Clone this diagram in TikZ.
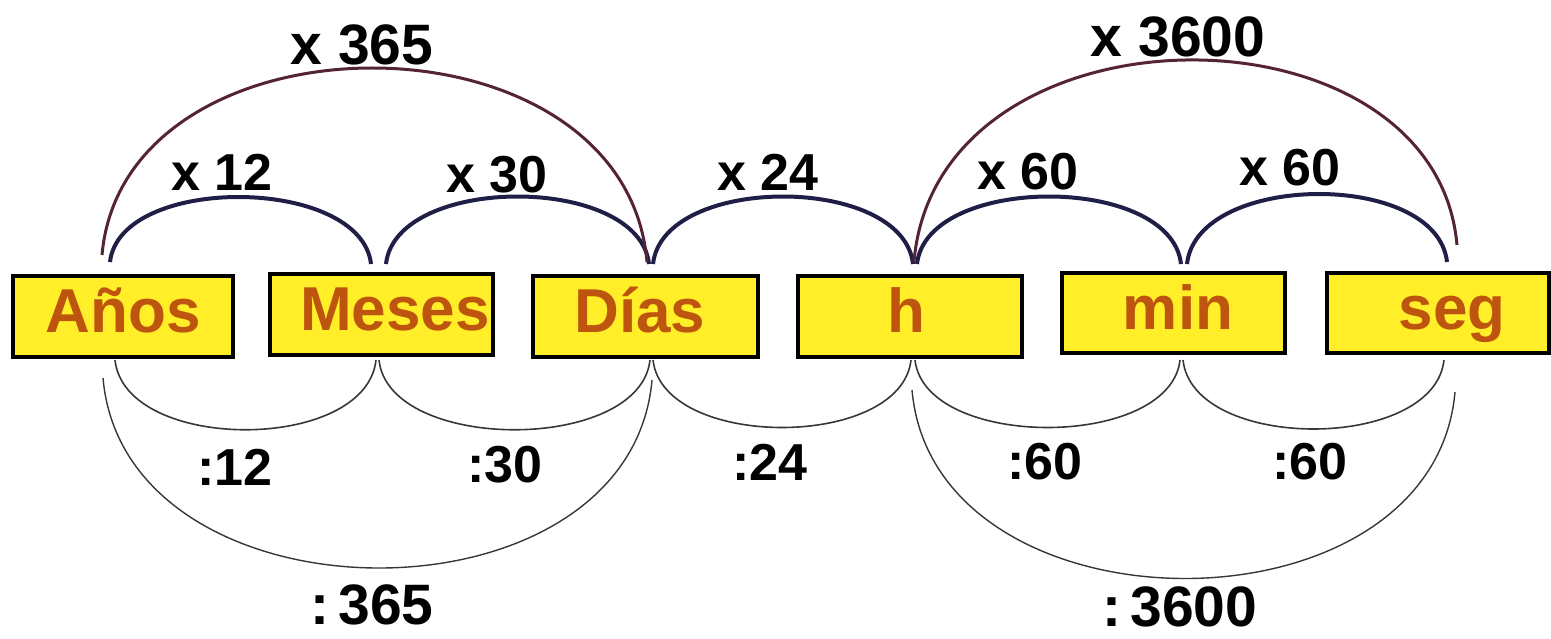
\documentclass[tikz,border=0pt]{standalone}
\usepackage{fontspec}
\setmainfont{Liberation Sans}
\usetikzlibrary{calc}
\definecolor{boxfill}{RGB}{255,238,40}
\definecolor{boxtxt}{RGB}{190,85,15}
\definecolor{navyarc}{RGB}{30,30,70}
\definecolor{bigarc}{RGB}{85,35,55}
\definecolor{lowarc}{RGB}{55,55,55}
\tikzset{
  unitbox/.style={draw=black, line width=4pt, fill=boxfill, minimum width=222pt, minimum height=81pt, inner xsep=0pt,
    text=boxtxt, font=\bfseries\fontsize{62}{70}\selectfont, text height=45pt, text depth=13pt},
  lbl/.style={font=\bfseries\fontsize{52}{60}\selectfont, text=black, inner sep=0pt},
  biglbl/.style={font=\bfseries\fontsize{57}{64}\selectfont, text=black, inner sep=0pt},
  topsmall/.style={draw=navyarc, line width=4pt},
  topbig/.style={draw=bigarc, line width=3pt},
  lowsmall/.style={draw=lowarc, line width=1.6pt},
  lowbig/.style={draw=lowarc, line width=1.4pt}
}
\begin{document}
\begin{tikzpicture}[x=1pt,y=-1pt]
\useasboundingbox (0,0) rectangle (1551,638);
% boxes
\node[unitbox, minimum width=220pt] (anos) at (123,316) {Años};
\node[unitbox, minimum width=223pt] (meses) at (381,314) {\hspace*{28pt}Meses};
\node[unitbox, minimum width=225pt] (dias) at (645,316) {Días\hspace*{10pt}};
\node[unitbox, minimum width=224pt] (hora) at (910,316) {h\hspace*{8pt}};
\node[unitbox, minimum width=223pt, minimum height=80pt] (minu) at (1173,313) {\hspace*{10pt}min};
\node[unitbox, minimum width=222pt, minimum height=80pt] (segu) at (1438,313) {\hspace*{28pt}seg};
% top coordinates
\coordinate (t1) at (110,262);
\coordinate (t2a) at (371,264);
\coordinate (t2b) at (386,264);
\coordinate (t3) at (649,264);
\coordinate (t3b) at (653,264);
\coordinate (t4) at (913,264);
\coordinate (t4b) at (917,264);
\coordinate (t5a) at (1181,264);
\coordinate (t5b) at (1187,264);
\coordinate (t6) at (1447,262);
\coordinate (T1) at (102,255);
\coordinate (T3) at (647,262);
\coordinate (T4) at (914,262);
\coordinate (T6) at (1457,245);
% bottom coordinates
\coordinate (b1) at (115,360);
\coordinate (b2a) at (376,360);
\coordinate (b2b) at (379,360);
\coordinate (b3a) at (650,360);
\coordinate (b3b) at (653,360);
\coordinate (b4a) at (911,360);
\coordinate (b4b) at (915,360);
\coordinate (b5a) at (1180,360);
\coordinate (b5b) at (1183,360);
\coordinate (b6) at (1444,360);
\coordinate (B1) at (103,378);
\coordinate (B3) at (652,380);
\coordinate (B4) at (912,390);
\coordinate (B6) at (1455,392);
% top small arcs
\draw[topsmall] (t1) .. controls ($(t1)+(10,-88)$) and ($(t2a)+(-10,-88)$) .. (t2a);
\draw[topsmall] (t2b) .. controls ($(t2b)+(10,-90)$) and ($(t3)+(-10,-90)$) .. (t3);
\draw[topsmall] (t3b) .. controls ($(t3b)+(10,-90)$) and ($(t4)+(-10,-90)$) .. (t4);
\draw[topsmall] (t4b) .. controls ($(t4b)+(10,-90)$) and ($(t5a)+(-10,-90)$) .. (t5a);
\draw[topsmall] (t5b) .. controls ($(t5b)+(10,-92)$) and ($(t6)+(-10,-92)$) .. (t6);
% top big arcs
\draw[topbig] (T1) .. controls ($(T1)+(22,-250)$) and ($(T3)+(-22,-258)$) .. (T3);
\draw[topbig] (T4) .. controls ($(T4)+(22,-266)$) and ($(T6)+(-22,-250)$) .. (T6);
% bottom small arcs
\draw[lowsmall] (b1) .. controls ($(b1)+(10,93)$) and ($(b2a)+(-10,93)$) .. (b2a);
\draw[lowsmall] (b2b) .. controls ($(b2b)+(10,93)$) and ($(b3a)+(-10,93)$) .. (b3a);
\draw[lowsmall] (b3b) .. controls ($(b3b)+(10,90)$) and ($(b4a)+(-10,90)$) .. (b4a);
\draw[lowsmall] (b4b) .. controls ($(b4b)+(10,90)$) and ($(b5a)+(-10,90)$) .. (b5a);
\draw[lowsmall] (b5b) .. controls ($(b5b)+(10,92)$) and ($(b6)+(-10,92)$) .. (b6);
% bottom big arcs
\draw[lowbig] (B1) .. controls ($(B1)+(22,252)$) and ($(B3)+(-22,252)$) .. (B3);
\draw[lowbig] (B4) .. controls ($(B4)+(22,250)$) and ($(B6)+(-22,250)$) .. (B6);
% labels
\node[biglbl] (l365) at (362,45) {x 365};
\node[biglbl] (l3600) at (1178,37) {x 3600};
\node[lbl] (l12) at (222,172) {x 12};
\node[lbl] (l30) at (497,175) {x 30};
\node[lbl] (l24) at (768,172) {x 24};
\node[lbl] (l60a) at (1028,172) {x 60};
\node[lbl] (l60b) at (1290,168) {x 60};
\node[lbl] (d12) at (235,467) {:12};
\node[lbl] (d30) at (505,465) {:30};
\node[lbl] (d24) at (770,462) {:24};
\node[lbl] (d60a) at (1045,462) {:60};
\node[lbl] (d60b) at (1310,462) {:60};
\node[biglbl] (d365) at (372,605) {:\hspace{9pt}365};
\node[biglbl] (d3600) at (1180,607) {:\hspace{9pt}3600};
\end{tikzpicture}
\end{document}
